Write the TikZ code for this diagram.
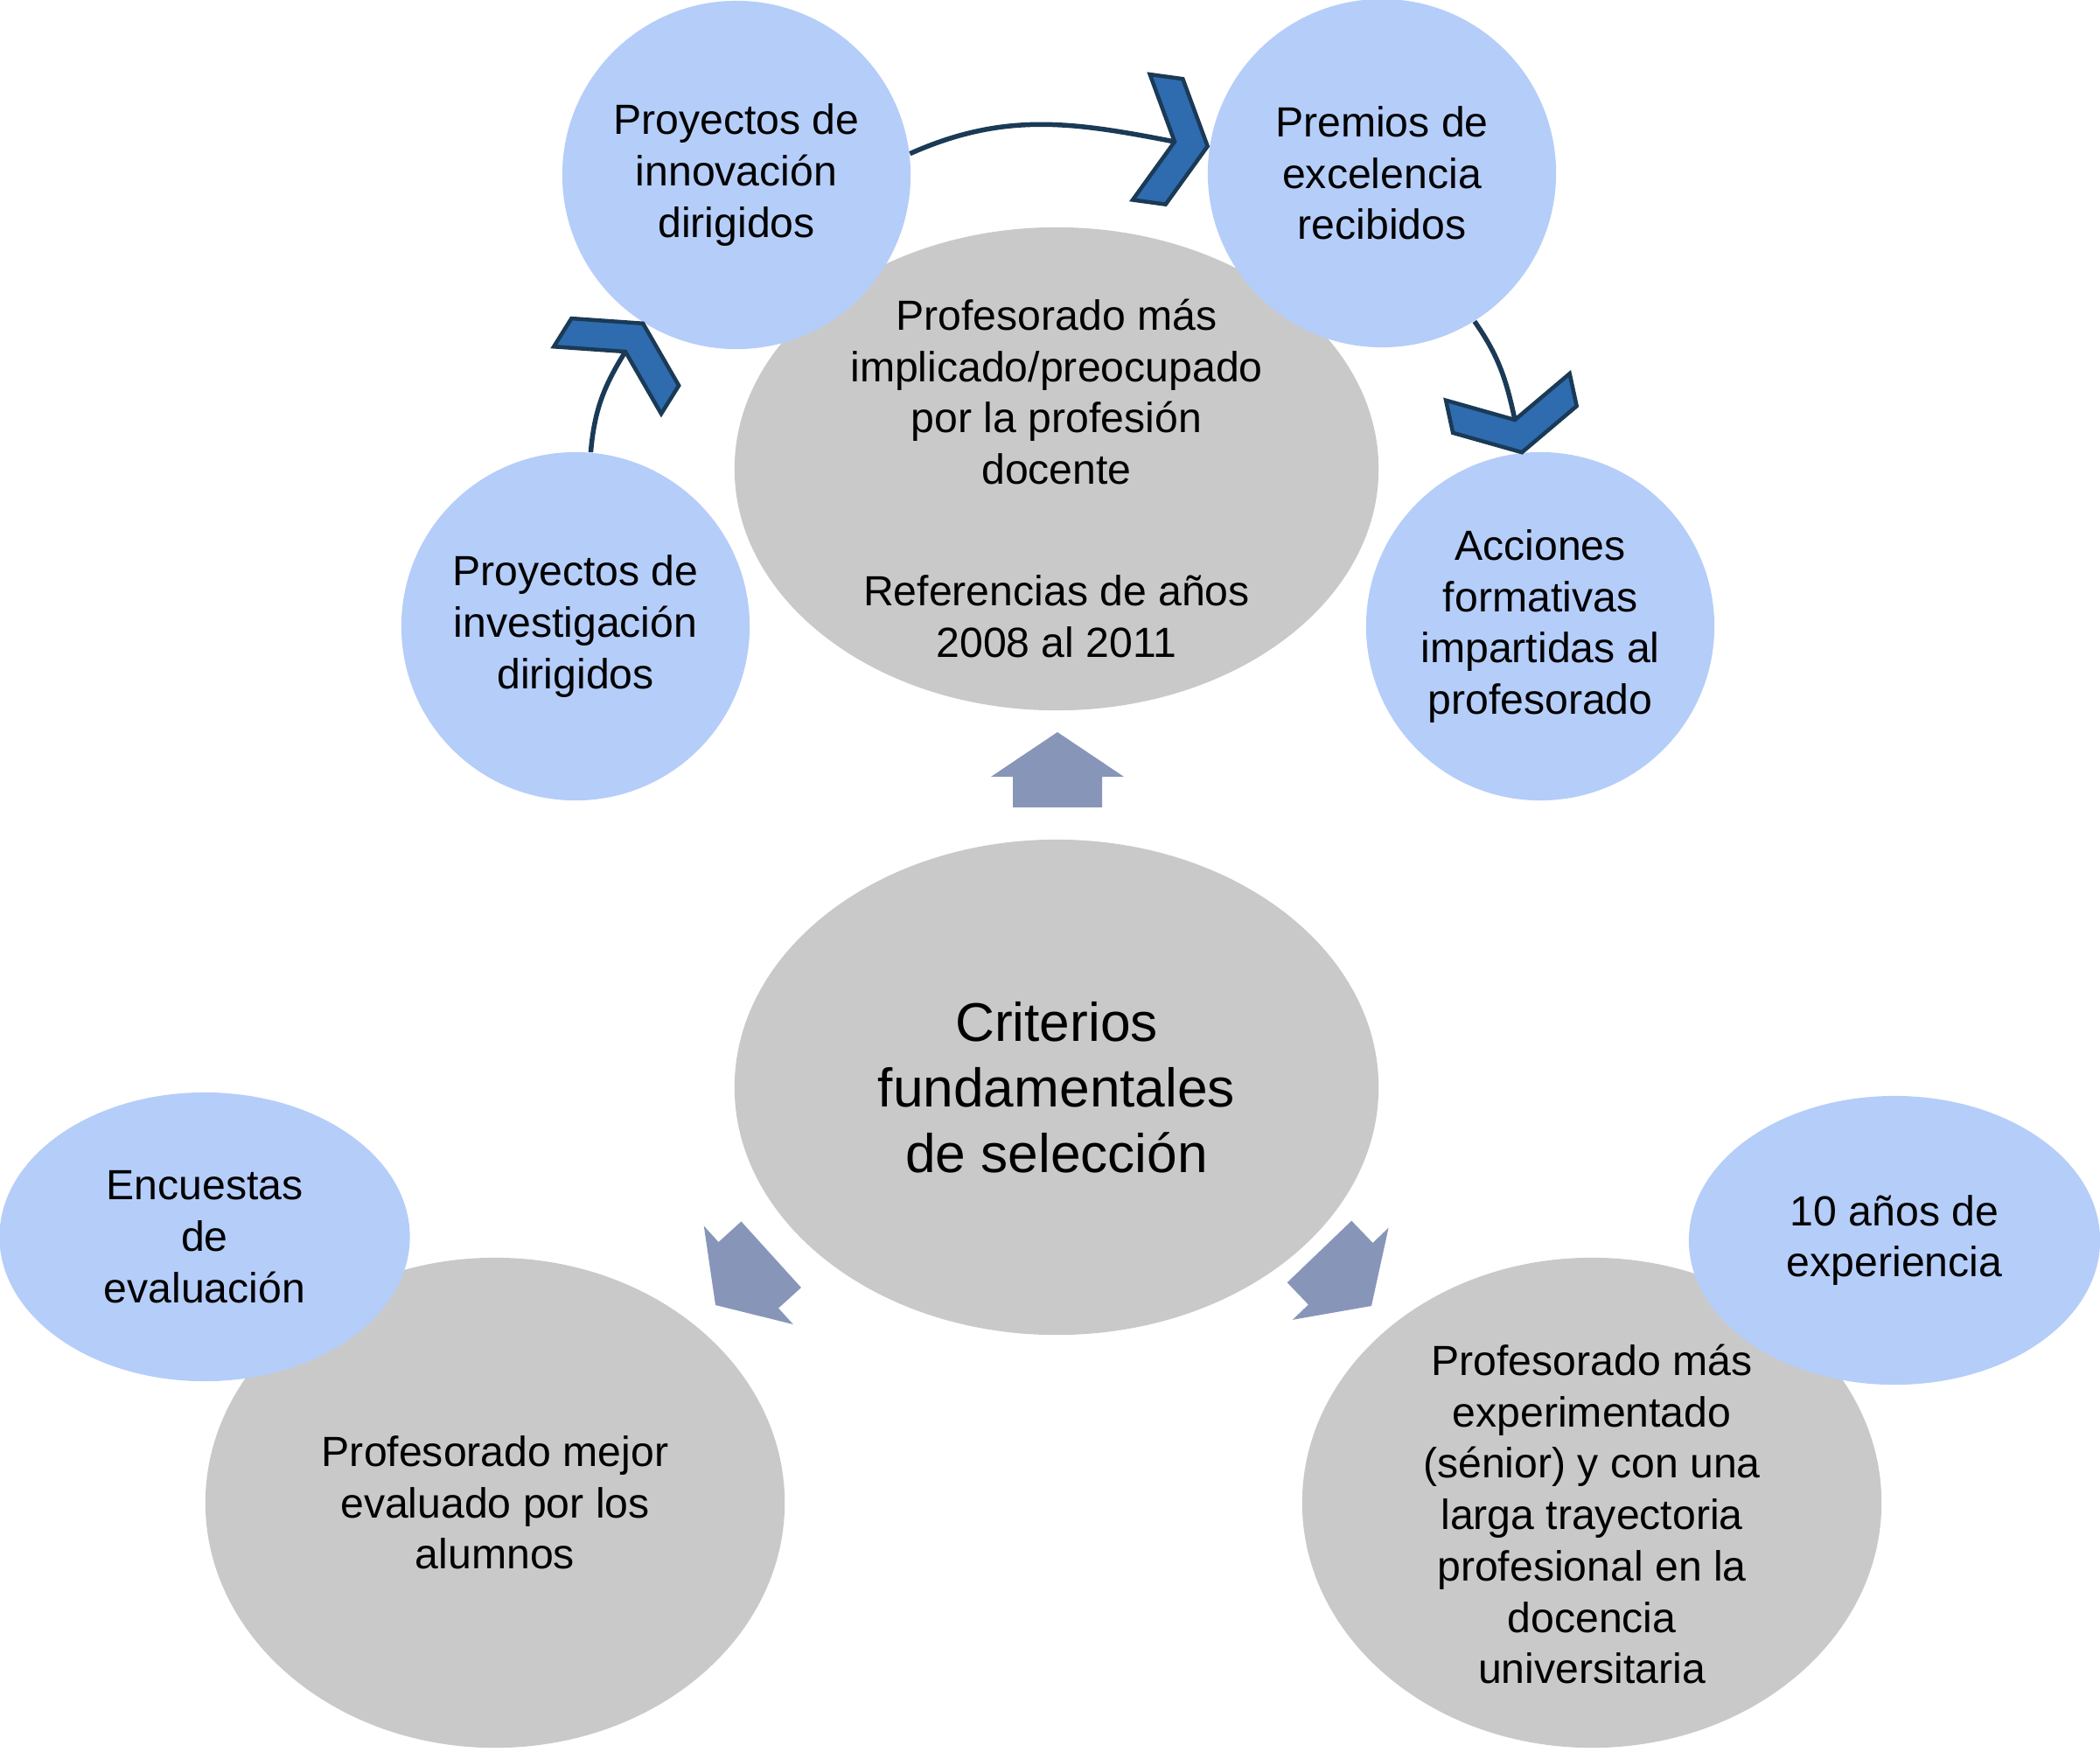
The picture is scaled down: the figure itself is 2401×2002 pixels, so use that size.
\documentclass[tikz,border=0pt]{standalone}
\usepackage{fontspec}
\setmainfont{Liberation Sans}
\usetikzlibrary{shapes.geometric,positioning,calc}

\definecolor{circblue}{RGB}{181,205,249}
\definecolor{ellgray}{RGB}{201,201,201}
\definecolor{arrowfill}{RGB}{135,150,184}
\definecolor{chevfill}{RGB}{47,107,175}
\definecolor{navy}{RGB}{26,58,86}
\newcommand{\txtfont}{\fontsize{13.7}{16.7}\selectfont}

\tikzset{
    chev/.pic={\draw[navy, line width=0.045cm, line join=miter, fill=chevfill]
        (0,0) -- (-38.5,72.4) -- (-0.5,72.4) -- (38,0) -- (-0.5,-72.4) -- (-38.5,-72.4) -- cycle;},
    blockarrow/.pic={\fill[arrowfill]
        (0,0) -- (-51,76) -- (-51,51) -- (-86,51) -- (-86,-51) -- (-51,-51) -- (-51,-76) -- cycle;}
}

\begin{document}
\begin{tikzpicture}[x=0.01cm, y=0.01cm,
    grayell/.style={ellipse, fill=ellgray, inner sep=0pt},
    blueell/.style={ellipse, fill=circblue, inner sep=0pt, align=center, font=\txtfont},
    bubble/.style={circle, fill=circblue, minimum size=3.98cm, inner sep=0pt, align=center, font=\txtfont},
    txt/.style={align=center, inner sep=0pt, font=\txtfont},
    link/.style={draw=navy, line width=0.055cm}]

    \useasboundingbox (0,-2002) rectangle (2401,0);

    % grey ellipses
    \node[grayell, minimum width=7.36cm, minimum height=5.52cm] (implic) at (1208,-536) {};
    \node[grayell, minimum width=7.36cm, minimum height=5.66cm, align=center,
        font=\fontsize{17.7}{21.3}\selectfont] (crit) at (1208,-1243) {Criterios\\fundamentales\\de selección};
    \node[grayell, minimum width=6.62cm, minimum height=5.6cm, align=center, font=\txtfont]
        (mejor) at (566,-1718) {Profesorado mejor\\evaluado por los\\alumnos};
    \node[grayell, minimum width=6.62cm, minimum height=5.6cm] (senior) at (1820,-1718) {};

    \node[txt] (implictxt) at ($(implic)+(0,-11)$) {Profesorado más\\implicado/preocupado\\por la profesión\\docente\\[22.9pt]Referencias de años\\2008 al 2011};
    \node[txt] (seniortxt) at ($(senior)+(0,-13)$) {Profesorado más\\experimentado\\(sénior) y con una\\larga trayectoria\\profesional en la\\docencia\\universitaria};

    % blue bubbles
    \node[bubble] (invest) at (658,-716) {Proyectos de\\investigación\\dirigidos};
    \node[bubble] (innov) at (842,-200) {Proyectos de\\innovación\\dirigidos};
    \node[bubble] (premios) at (1580,-198) {Premios de\\excelencia\\recibidos};
    \node[bubble] (acciones) at (1761,-716) {Acciones\\formativas\\impartidas al\\profesorado};
    \node[blueell, minimum width=4.69cm, minimum height=3.3cm] (encuestas) at (234,-1414) {Encuestas\\de\\evaluación};
    \node[blueell, minimum width=4.7cm, minimum height=3.3cm] (experiencia) at (2166,-1418) {10 años de\\experiencia};

    % curved links with chevron heads
    \coordinate (c1) at (715,-402);
    \coordinate (c2) at (1343,-162);
    \coordinate (c3) at (1732,-480);
    \draw[link] (invest.85) to[out=85, in=238] (c1);
    \draw[link] (innov.7) to[out=24, in=169] (c2);
    \draw[link] (premios.-58) to[out=-55, in=102] (c3);
    \pic[rotate=58] at (c1) {chev};
    \pic[rotate=-7.8] at (c2) {chev};
    \pic[rotate=-77.8] at (c3) {chev};

    % block arrows
    \pic[rotate=90] at (1209,-837) {blockarrow};
    \pic[rotate=-137.8] at (818,-1492) {blockarrow};
    \pic[rotate=-46.2] at (1568,-1493) {blockarrow};
\end{tikzpicture}
\end{document}
